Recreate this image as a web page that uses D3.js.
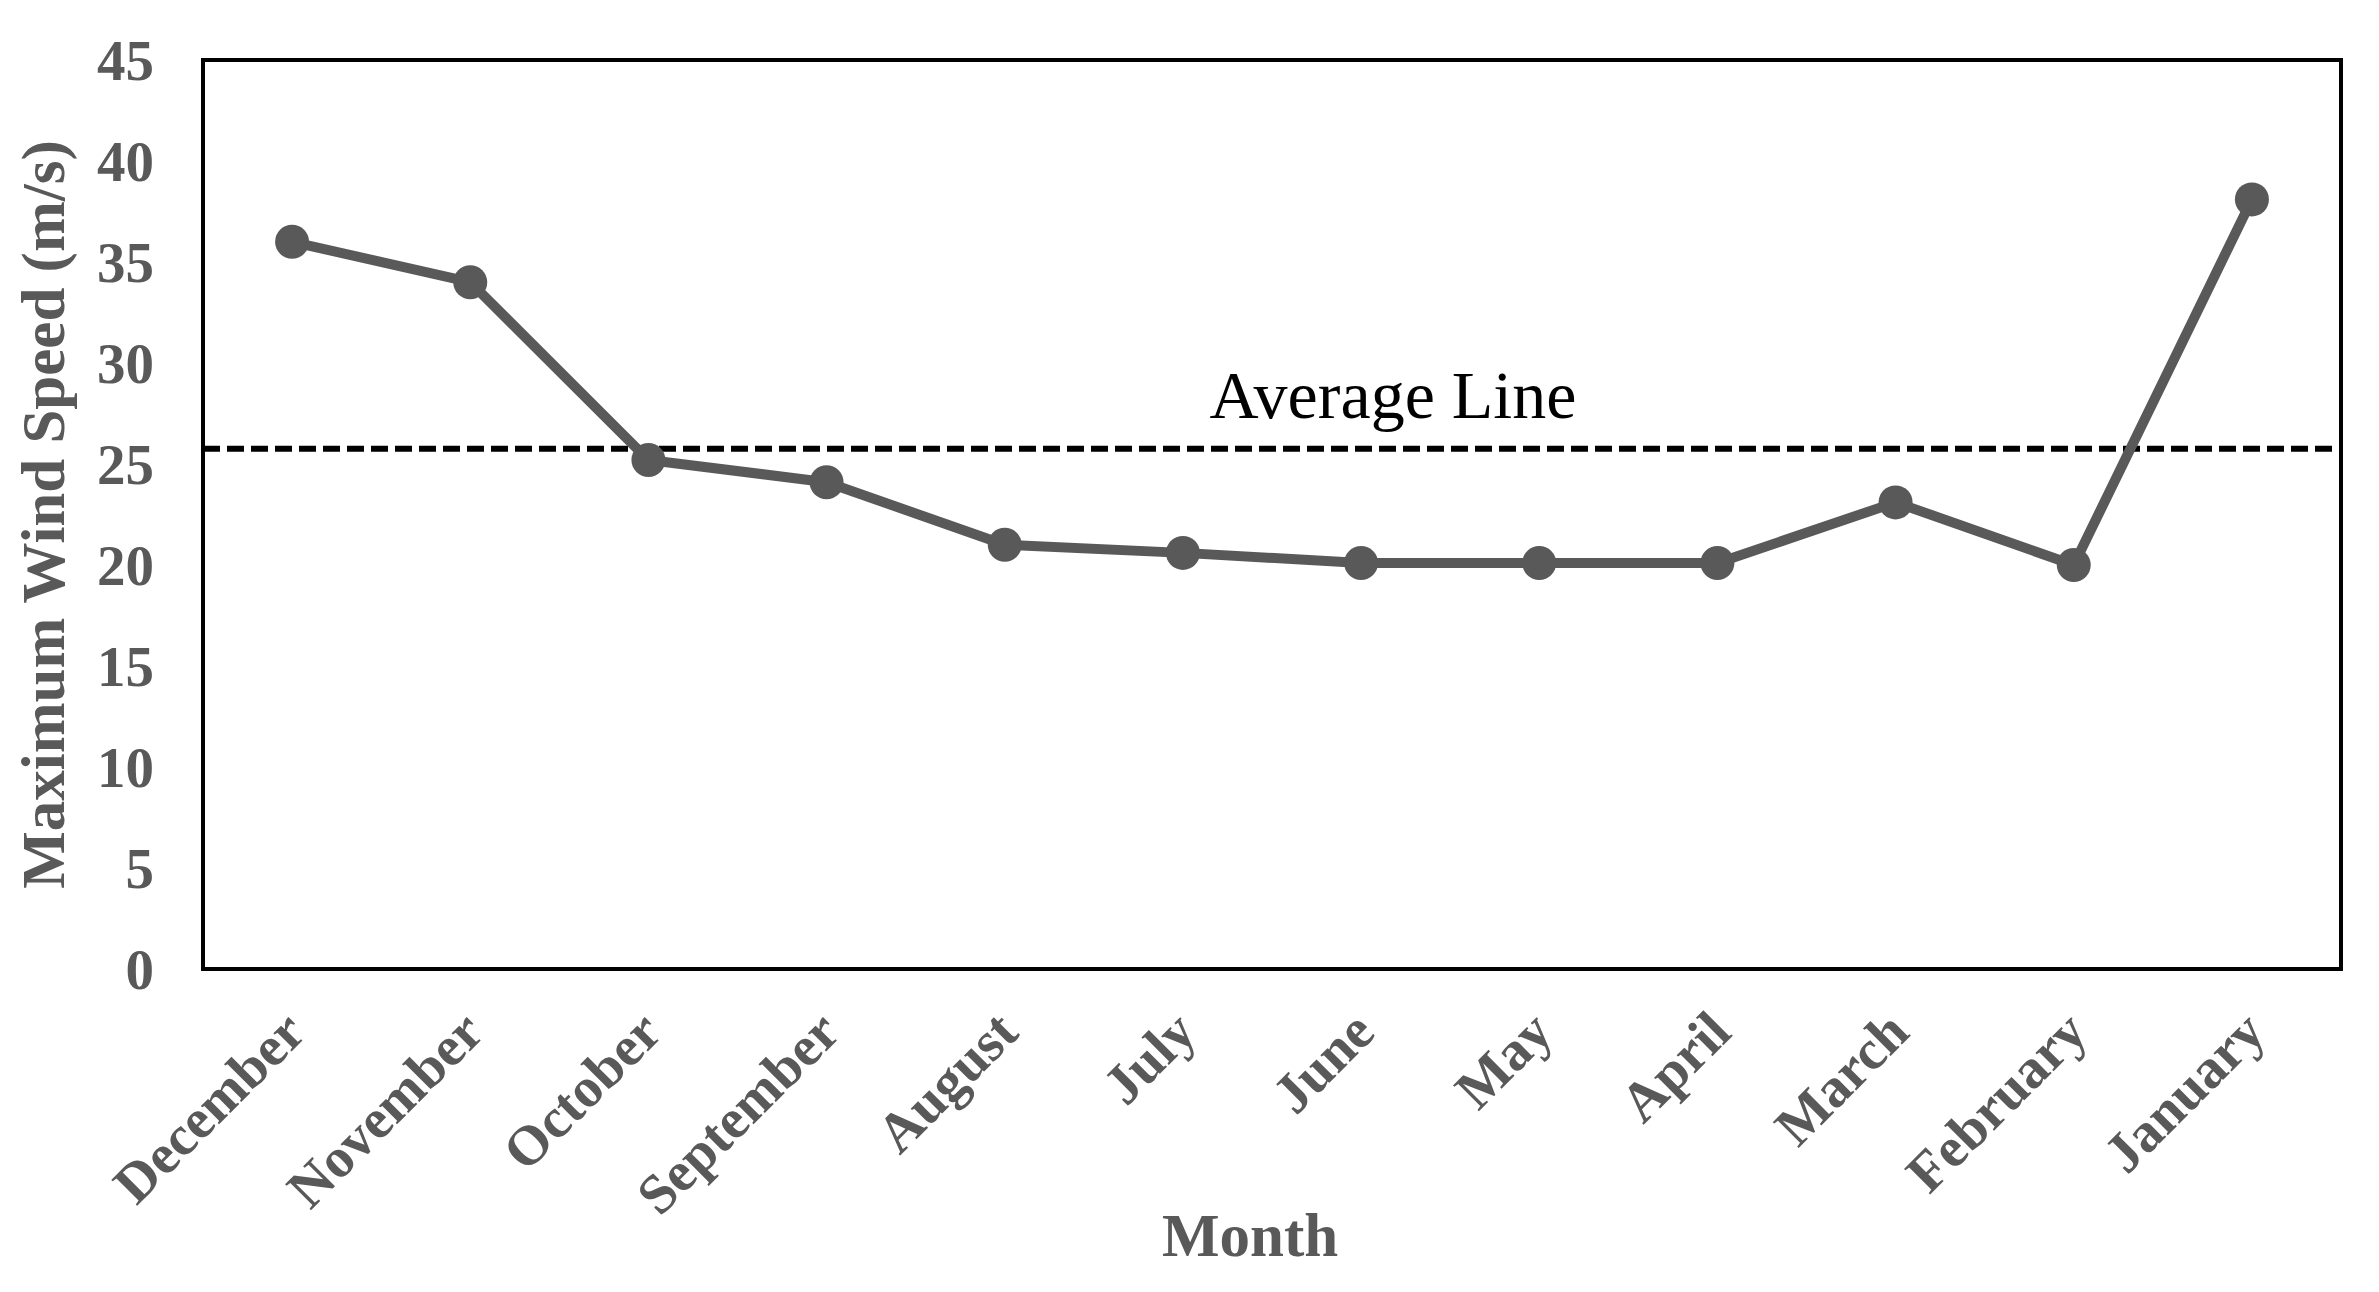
<!DOCTYPE html>
<html>
<head>
<meta charset="utf-8">
<script src="https://cdn.jsdelivr.net/npm/d3@7"></script>
<style>
  html, body { margin: 0; padding: 0; background: #fff; }
  svg { display: block; }
</style>
</head>
<body>
<svg id="chart"></svg>
<script>
// months as they run along the x axis (reversed order, as in the original)
var months = ["December", "November", "October", "September", "August", "July",
  "June", "May", "April", "March", "February", "January"];
// maximum wind speed, m/s
var windSpeed = [36.0, 34.0, 25.2, 24.1, 21.0, 20.6, 20.1, 20.1, 20.1, 23.1, 20.0, 38.1];
var averageSpeed = 25.75;
var yTicks = [0, 5, 10, 15, 20, 25, 30, 35, 40, 45];

var W = 2379, H = 1292;
var margin = {top: 60, right: 38, bottom: 323, left: 203};
var grey = "#595959";
var serif = "'Liberation Serif', 'Times New Roman', serif";

var svg = d3.select("#chart").attr("width", W).attr("height", H);

var x = d3.scaleBand()
  .domain(months)
  .range([margin.left, W - margin.right])
  .padding(0);
var y = d3.scaleLinear()
  .domain([0, 45])
  .range([H - margin.bottom, margin.top]);

// y axis labels only, no tick marks
var yAxis = svg.append("g")
  .attr("transform", "translate(" + (margin.left - 49) + ",0)")
  .call(d3.axisLeft(y).tickValues(yTicks).tickSize(0).tickPadding(0));
yAxis.select(".domain").remove();
yAxis.selectAll("text")
  .style("font-family", serif)
  .style("font-weight", "bold")
  .style("font-size", "57px")
  .style("fill", grey)
  .attr("dy", "0.34em");

// x axis, rotated month names
var xAxis = svg.append("g")
  .attr("transform", "translate(0," + (H - margin.bottom) + ")")
  .call(d3.axisBottom(x).tickSize(0).tickPadding(0));
xAxis.select(".domain").remove();
xAxis.selectAll("text")
  .style("font-family", serif)
  .style("font-weight", "bold")
  .style("font-size", "56px")
  .style("fill", grey)
  .style("text-anchor", "end")
  .attr("dy", null)
  .attr("y", 0)
  .attr("transform", "translate(16,66) rotate(-45)");

// average line
svg.append("line")
  .attr("x1", margin.left).attr("x2", W - margin.right)
  .attr("y1", y(averageSpeed)).attr("y2", y(averageSpeed))
  .style("stroke", "#000")
  .style("stroke-width", 6)
  .style("stroke-dasharray", "17 7");

svg.append("text")
  .attr("x", 1393)
  .attr("y", y(averageSpeed) - 31)
  .style("text-anchor", "middle")
  .style("font-family", serif)
  .style("font-size", "68px")
  .style("fill", "#000")
  .text("Average Line");

// series line and markers
var line = d3.line()
  .x(function(d, i) { return x(months[i]) + x.bandwidth() / 2; })
  .y(function(d) { return y(d); });

svg.append("path")
  .datum(windSpeed)
  .attr("d", line)
  .style("fill", "none")
  .style("stroke", grey)
  .style("stroke-width", 10)
  .style("stroke-linejoin", "round");

svg.append("g").selectAll("circle").data(windSpeed)
  .enter().append("circle")
  .attr("cx", function(d, i) { return x(months[i]) + x.bandwidth() / 2; })
  .attr("cy", function(d) { return y(d); })
  .attr("r", 17)
  .style("fill", grey);

// plot frame
svg.append("rect")
  .attr("x", margin.left).attr("y", margin.top)
  .attr("width", W - margin.left - margin.right)
  .attr("height", H - margin.top - margin.bottom)
  .style("fill", "none")
  .style("stroke", "#000")
  .style("stroke-width", 4);

// axis titles
svg.append("text")
  .attr("x", 1250).attr("y", 1256)
  .style("text-anchor", "middle")
  .style("font-family", serif)
  .style("font-weight", "bold")
  .style("font-size", "61px")
  .style("fill", grey)
  .text("Month");

svg.append("text")
  .attr("transform", "translate(64," + ((margin.top + H - margin.bottom) / 2) + ") rotate(-90)")
  .style("text-anchor", "middle")
  .style("font-family", serif)
  .style("font-weight", "bold")
  .style("font-size", "61px")
  .style("fill", grey)
  .text("Maximum Wind Speed (m/s)");
</script>
</body>
</html>
